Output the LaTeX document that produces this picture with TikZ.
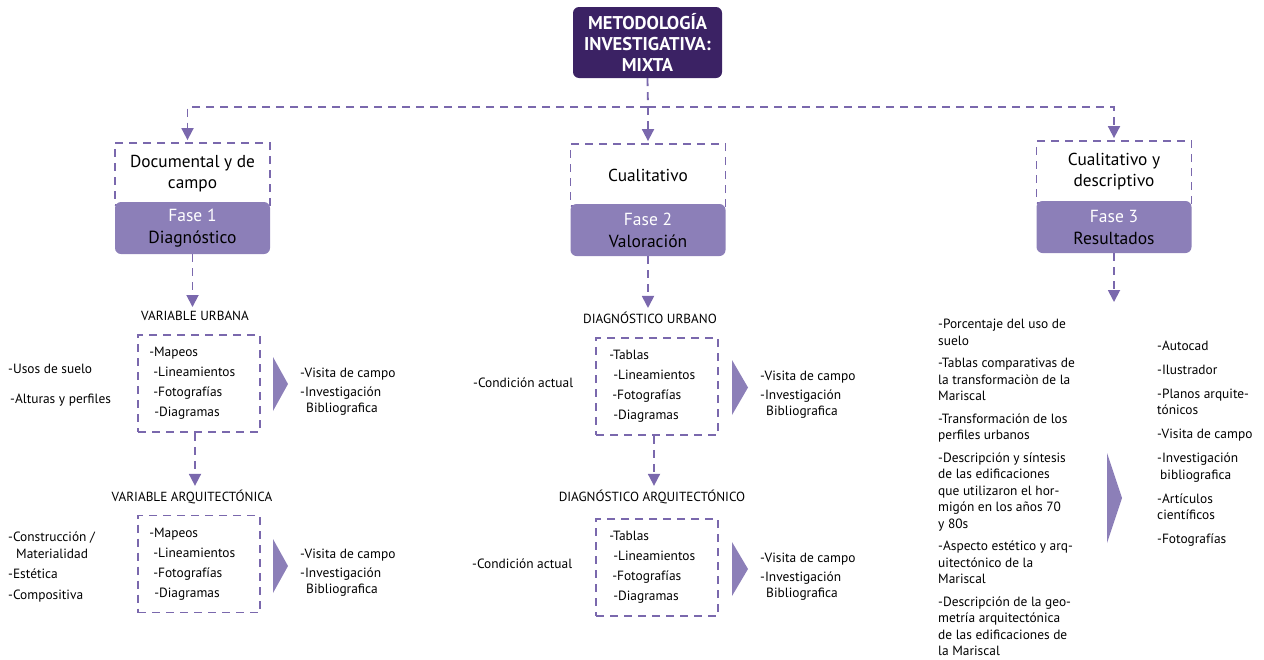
\documentclass[tikz,border=0pt]{standalone}
\usepackage{fontspec}
\setmainfont{PT Sans}
\usetikzlibrary{arrows.meta,positioning}
\definecolor{moradoosc}{HTML}{3B2264}
\definecolor{moradomed}{HTML}{8C7FB8}
\definecolor{moradolin}{HTML}{7A68AD}

\tikzset{
  linea/.style={moradolin, line width=1.8pt, dash pattern=on 8pt off 6pt},
  flecha/.style={linea, -{Triangle[width=12pt,length=12pt]}, shorten >=2pt},
  titulo/.style={fill=moradoosc, rounded corners=6pt, text=white, align=center,
    font=\fontsize{18.5}{21}\selectfont\bfseries, minimum width=149pt, minimum height=71pt, inner sep=0pt},
  tipo/.style={draw=moradolin, line width=1.8pt, dash pattern=on 8pt off 6pt, align=center,
    font=\fontsize{17.3}{21}\selectfont, minimum width=155pt, minimum height=62pt, inner sep=0pt},
  fase/.style={fill=moradomed, rounded corners=6pt, align=center,
    font=\fontsize{17.5}{22}\selectfont, minimum width=155pt, minimum height=52pt, inner sep=0pt},
  caja/.style={draw=moradolin, line width=1.8pt, dash pattern=on 8pt off 6pt,
    minimum width=122pt, minimum height=97pt, inner sep=0pt},
  etiqueta/.style={font=\fontsize{13.2}{15}\selectfont, inner sep=2pt},
  lista/.style={align=left, anchor=west, inner sep=0pt, font=\fontsize{13.4}{20}\selectfont},
  texto/.style={align=left, anchor=west, inner sep=0pt, font=\fontsize{13.4}{16.5}\selectfont},
  tri/.style={fill=moradomed}
}

\begin{document}
\begin{tikzpicture}[x=1pt,y=-1pt]
  \useasboundingbox (0,0) rectangle (1264,659);

  % metodologia y tipos
  \node[titulo] (titulo) at (647.5,42.5) {METODOLOGÍA\\INVESTIGATIVA:\\MIXTA};
  \node[tipo] (tipo1) at (192.5,174) {Documental y de\\campo};
  \node[tipo] (tipo2) at (648,175) {Cualitativo};
  \node[tipo] (tipo3) at (1114,172) {Cualitativo y\\descriptivo};
  \node[fase] (fase1) at (192.5,228) {\textcolor{white}{Fase 1}\\Diagnóstico};
  \node[fase] (fase2) at (648,230) {\textcolor{white}{Fase 2}\\Valoración};
  \node[fase] (fase3) at (1114,227) {\textcolor{white}{Fase 3}\\Resultados};

  \coordinate (bus) at (648,107);
  \draw[linea] (titulo.south) -- (bus);
  \draw[flecha] (bus) -| ([xshift=-5pt]tipo1.north);
  \draw[flecha] (bus) -- (tipo2.north);
  \draw[flecha] (bus) -| (tipo3.north);

  % fase 1
  \node[etiqueta] (varurb) at (195,316) {VARIABLE URBANA};
  \node[caja] (caja1) at (199,383.5) {};
  \node[lista] (lista1) at ([xshift=12pt]caja1.west) {-Mapeos\\\hspace*{4pt}-Lineamientos\\\hspace*{4pt}-Fotografías\\\hspace*{5pt}-Diagramas};
  \node[texto] (izq1) at (8,385) {-Usos de suelo\\[13pt]\hspace*{2pt}-Alturas y perfiles};
  \node[texto] (der1) at (300,392) {-Visita de campo\\[2pt]-Investigación\\\hspace*{6pt}Bibliografica};
  \fill[tri] (273,357) -- (288,384) -- (273,411) -- cycle;

  \node[etiqueta] (varq) at (192,497) {VARIABLE ARQUITECTÓNICA};
  \node[caja] (caja2) at (199,564) {};
  \node[lista] (lista2) at ([xshift=12pt]caja2.west) {-Mapeos\\\hspace*{4pt}-Lineamientos\\\hspace*{4pt}-Fotografías\\\hspace*{5pt}-Diagramas};
  \node[texto] (izq2) at (8,567) {-Construcción /\\\hspace*{8pt}Materialidad\\[4pt]-Estética\\[4pt]-Compositiva};
  \node[texto] (der2) at (300,573) {-Visita de campo\\[2pt]-Investigación\\\hspace*{6pt}Bibliografica};
  \fill[tri] (273,539) -- (288,566) -- (273,593) -- cycle;
  \draw[flecha] (fase1.south) -- (fase1.south |- varurb.north);
  \draw[flecha] ([xshift=-4pt]caja1.south) -- ([xshift=-4pt]caja1.south |- varq.north);

  % fase 2
  \node[etiqueta] (diagurb) at (650,318) {DIAGNÓSTICO URBANO};
  \node[caja] (caja3) at (657,386.5) {};
  \node[lista] (lista3) at ([xshift=14pt]caja3.west) {-Tablas\\\hspace*{4pt}-Lineamientos\\\hspace*{3pt}-Fotografías\\\hspace*{4pt}-Diagramas};
  \node[texto] (izq3) at (473,383) {-Condición actual};
  \node[texto] (der3) at (760,395) {-Visita de campo\\[2pt]-Investigación\\\hspace*{6pt}Bibliografica};
  \fill[tri] (732,360) -- (748,387.5) -- (732,415) -- cycle;

  \node[etiqueta] (diagarq) at (652,497) {DIAGNÓSTICO ARQUITECTÓNICO};
  \node[caja] (caja4) at (657,567.5) {};
  \node[lista] (lista4) at ([xshift=14pt]caja4.west) {-Tablas\\\hspace*{4pt}-Lineamientos\\\hspace*{3pt}-Fotografías\\\hspace*{4pt}-Diagramas};
  \node[texto] (izq4) at (472,564) {-Condición actual};
  \node[texto] (der4) at (760,577) {-Visita de campo\\[2pt]-Investigación\\\hspace*{6pt}Bibliografica};
  \fill[tri] (732,542) -- (748,569) -- (732,596) -- cycle;
  \draw[flecha] (fase2.south) -- (fase2.south |- diagurb.north);
  \draw[flecha] ([xshift=-3pt]caja3.south) -- ([xshift=-3pt]caja3.south |- diagarq.north);

  % fase 3
  \coordinate (fin3) at (1114,304);
  \draw[flecha] (fase3.south) -- (fin3);
  \node[texto] (res1) at (938,487.5) {-Porcentaje del uso de\\suelo\\[6pt]-Tablas comparativas de\\la transformaciòn de la\\Mariscal\\[6pt]-Transformación de los\\perfiles urbanos\\[6pt]-Descripción y síntesis\\de las edificaciones\\que utilizaron el hor-\\migón en los años 70\\y 80s\\[6pt]-Aspecto estético y arq-\\uitectónico de la\\Mariscal\\[6pt]-Descripción de la geo-\\metría arquitectónica\\de las edificaciones de\\la Mariscal};
  \node[texto] (res2) at (1157,443.5) {-Autocad\\[7.5pt]-Ilustrador\\[7.5pt]-Planos arquite-\\tónicos\\[7.5pt]-Visita de campo\\[7.5pt]-Investigación\\\hspace*{3pt}bibliografica\\[7.5pt]-Artículos\\científicos\\[7.5pt]-Fotografías};
  \fill[tri] (1107,453) -- (1122,498) -- (1107,543) -- cycle;
\end{tikzpicture}
\end{document}
